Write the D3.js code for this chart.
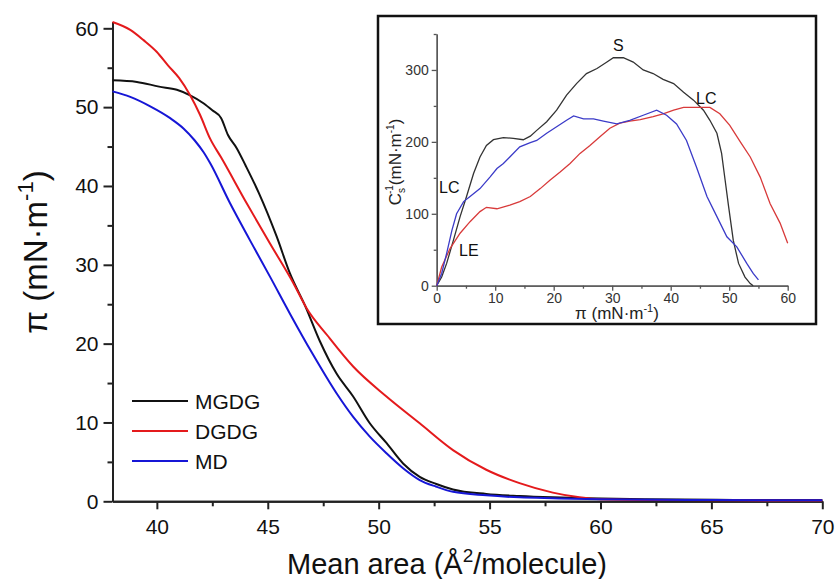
<!DOCTYPE html>
<html>
<head>
<meta charset="utf-8">
<script src="https://cdn.jsdelivr.net/npm/d3@7/dist/d3.min.js"></script>
<style>
body { margin: 0; background: #fff; }
svg { display: block; font-family: "Liberation Sans", Arial, sans-serif; }
.main-axis path, .main-axis line { stroke: #222; stroke-width: 2; }
.inset-axis path, .inset-axis line { stroke: #555; stroke-width: 1.3; }
</style>
</head>
<body>
<svg id="chart" width="839" height="579"></svg>
<script>
// main isotherms: surface pressure vs mean molecular area
var mgdgArea = [38, 39.1, 40.1, 40.9, 41.5, 42.1, 42.5, 42.9, 43.2, 43.6, 44.0, 44.6, 45.4, 46.0, 46.7, 47.35, 48.1, 48.85, 49.6, 50.35, 51.1, 51.85, 52.6, 53.35, 54.85, 56.35, 57.85, 59.35, 62, 66, 70];
var mgdgPi   = [53.4, 53.2, 52.6, 52.2, 51.5, 50.5, 49.6, 48.6, 46.5, 44.8, 42.6, 39.1, 33.6, 28.9, 24.7, 20.3, 16.2, 13.3, 9.9, 7.4, 4.8, 3.1, 2.2, 1.5, 0.93, 0.67, 0.5, 0.38, 0.25, 0.18, 0.15];

var dgdgArea = [38, 38.8, 39.4, 40.0, 40.5, 41.0, 41.5, 41.95, 42.4, 42.9, 44.05, 45.1, 46.15, 46.75, 47.7, 48.85, 50.35, 51.85, 53.35, 54.85, 56.35, 57.85, 59.05, 60, 63, 66, 70];
var dgdgPi   = [60.8, 59.8, 58.5, 57.0, 55.3, 53.7, 51.5, 49.0, 46.0, 43.6, 37.8, 32.7, 27.7, 24.5, 21.0, 17.1, 13.3, 9.9, 6.5, 4.0, 2.3, 1.1, 0.5, 0.25, 0.15, 0.12, 0.1];

var mdArea = [38, 38.8, 39.7, 40.6, 41.2, 41.7, 42.1, 42.4, 43.3, 44.2, 45.1, 46.0, 47.0, 48.1, 48.85, 49.6, 50.35, 51.1, 51.85, 52.6, 53.35, 54.85, 56.35, 57.85, 60, 65, 70];
var mdPi   = [52.0, 51.3, 50.1, 48.6, 47.3, 45.8, 44.3, 42.9, 37.8, 33.1, 28.5, 23.8, 18.8, 13.7, 10.7, 8.2, 6.1, 4.2, 2.7, 1.85, 1.2, 0.76, 0.5, 0.38, 0.25, 0.15, 0.12];

// inset: compression modulus vs surface pressure
var mgdgInsetPi = [0, 0.85, 1.7, 2.85, 4, 5.1, 6.3, 7.4, 8.5, 9.7, 11.4, 13.1, 14.8, 16, 17.1, 18.8, 20.5, 22.2, 23.9, 25.6, 27.4, 29.1, 30.2, 31.9, 33.6, 35.3, 37, 38.7, 40.5, 42.2, 43.9, 45.6, 46.7, 47.9, 48.7, 49.3, 49.9, 50.7, 51.6, 52.7, 53.6, 54.1];
var mgdgInsetC  = [0, 12, 31, 63, 96, 124, 156, 179, 195, 203, 206, 205, 203, 208, 216, 228, 244, 265, 281, 295, 302, 311, 317, 317, 311, 300, 295, 287, 281, 269, 258, 244, 230, 212, 184, 147, 110, 63, 31, 12, 3, 0];

var mdInsetPi = [0, 0.85, 1.7, 2.6, 3.4, 4.6, 5.7, 7.4, 9.1, 10.3, 11.4, 12.5, 14.2, 16, 17.1, 18.8, 20.5, 22.2, 23.4, 25.1, 26.8, 28.5, 30.8, 33, 35.3, 37.6, 39.3, 41, 42.7, 44.4, 46.2, 47.9, 49.6, 51.3, 53, 54.1, 55];
var mdInsetC  = [0, 17, 45, 77, 100, 117, 124, 135, 151, 163, 170, 179, 193, 199, 202, 212, 221, 230, 236, 232, 232, 229, 225, 230, 237, 244, 237, 225, 202, 165, 124, 96, 68, 54, 31, 17, 8];

var dgdgInsetPi = [0, 0.85, 2.3, 4, 5.7, 7.4, 8.5, 10.3, 12.5, 14.2, 16, 17.7, 19.4, 21.1, 22.8, 24.5, 26.2, 27.9, 29.6, 31.3, 33, 34.8, 37, 38.7, 40.5, 42.2, 43.9, 46.7, 48.4, 50.1, 51.9, 53.6, 55.3, 57, 58.7, 60];
var dgdgInsetC  = [0, 26, 52, 73, 89, 103, 109, 107, 112, 117, 124, 135, 147, 158, 170, 184, 195, 207, 219, 226, 229, 231, 235, 239, 244, 248, 248, 248, 239, 223, 200, 179, 151, 114, 87, 59];

var seriesNames = ["MGDG", "DGDG", "MD"];
var seriesColors = ["#111111", "#e41a1c", "#1616d6"];
var insetColors = ["#333333", "#d83a3a", "#3b3bc8"];

var xTicks = [40, 45, 50, 55, 60, 65, 70];
var xMinor = [42.5, 47.5, 52.5, 57.5, 62.5, 67.5];
var yTicks = [0, 10, 20, 30, 40, 50, 60];
var yMinor = [5, 15, 25, 35, 45, 55];
var insetXTicks = [0, 10, 20, 30, 40, 50, 60];
var insetXMinor = [5, 15, 25, 35, 45, 55];
var insetYTicks = [0, 100, 200, 300];
var insetYMinor = [50, 150, 250, 350];

var svg = d3.select("#chart");

function zip(a, b) {
  return a.map(function(v, i) { return [v, b[i]]; });
}

// ---- main chart ----
var x = d3.scaleLinear().domain([38, 70]).range([112.5, 822.3]);
var y = d3.scaleLinear().domain([0, 60.85]).range([501.3, 21.6]);

svg.append("g").attr("class", "main-axis")
    .attr("transform", "translate(0," + y(0) + ")")
    .call(d3.axisBottom(x).tickValues(xMinor).tickSize(5).tickSizeOuter(0).tickFormat(""));
var gx = svg.append("g").attr("class", "main-axis")
    .attr("transform", "translate(0," + y(0) + ")")
    .call(d3.axisBottom(x).tickValues(xTicks).tickSize(8).tickSizeOuter(0).tickPadding(10).tickFormat(d3.format("d")));
gx.selectAll("text").attr("font-size", 21).attr("fill", "#111")
    .attr("font-family", "Liberation Sans, Arial, sans-serif");

svg.append("g").attr("class", "main-axis")
    .attr("transform", "translate(" + x(38) + ",0)")
    .call(d3.axisLeft(y).tickValues(yMinor).tickSize(5).tickSizeOuter(0).tickFormat(""));
var gy = svg.append("g").attr("class", "main-axis")
    .attr("transform", "translate(" + x(38) + ",0)")
    .call(d3.axisLeft(y).tickValues(yTicks).tickSize(9).tickSizeOuter(0).tickPadding(5).tickFormat(d3.format("d")));
gy.selectAll("text").attr("font-size", 21).attr("fill", "#111")
    .attr("font-family", "Liberation Sans, Arial, sans-serif");

var line = d3.line()
    .x(function(d) { return x(d[0]); })
    .y(function(d) { return y(d[1]); })
    .curve(d3.curveMonotoneX);

var mainData = [zip(mgdgArea, mgdgPi), zip(dgdgArea, dgdgPi), zip(mdArea, mdPi)];
mainData.forEach(function(d, i) {
  svg.append("path").datum(d)
      .attr("d", line)
      .attr("fill", "none")
      .attr("stroke", seriesColors[i])
      .attr("stroke-width", 2);
});

// legend
var legend = svg.append("g").attr("transform", "translate(132,401)");
seriesNames.forEach(function(name, i) {
  legend.append("line")
      .attr("x1", 0).attr("x2", 56)
      .attr("y1", i * 30).attr("y2", i * 30)
      .attr("stroke", seriesColors[i]).attr("stroke-width", 2);
  legend.append("text")
      .attr("x", 63).attr("y", i * 30 + 7.5)
      .attr("font-size", 21).attr("fill", "#111")
      .text(name);
});

// axis titles
var xt = svg.append("text")
    .attr("x", 447).attr("y", 574)
    .attr("text-anchor", "middle")
    .attr("font-size", 29).attr("fill", "#111");
xt.append("tspan").text("Mean area (Å");
xt.append("tspan").attr("dy", -12).attr("font-size", 19).text("2");
xt.append("tspan").attr("dy", 12).text("/molecule)");

var yt = svg.append("text")
    .attr("transform", "translate(47,252) rotate(-90)")
    .attr("text-anchor", "middle")
    .attr("font-size", 33).attr("fill", "#111");
yt.append("tspan").text("π (mN·m");
yt.append("tspan").attr("dy", -14).attr("font-size", 22).text("-1");
yt.append("tspan").attr("dy", 14).text(")");

// ---- inset ----
svg.append("rect")
    .attr("x", 378).attr("y", 16)
    .attr("width", 438).attr("height", 308)
    .attr("fill", "#fff").attr("stroke", "#111").attr("stroke-width", 2.5);

var ix = d3.scaleLinear().domain([0, 60]).range([436.7, 787.7]);
var iy = d3.scaleLinear().domain([0, 350]).range([285.7, 34]);

svg.append("g").attr("class", "inset-axis")
    .attr("transform", "translate(0," + iy(0) + ")")
    .call(d3.axisBottom(ix).tickValues(insetXMinor).tickSize(3).tickSizeOuter(0).tickFormat(""));
var igx = svg.append("g").attr("class", "inset-axis")
    .attr("transform", "translate(0," + iy(0) + ")")
    .call(d3.axisBottom(ix).tickValues(insetXTicks).tickSize(5).tickSizeOuter(0).tickPadding(2).tickFormat(d3.format("d")));
igx.selectAll("text").attr("font-size", 14).attr("fill", "#333")
    .attr("font-family", "Liberation Sans, Arial, sans-serif");

svg.append("g").attr("class", "inset-axis")
    .attr("transform", "translate(" + ix(0) + ",0)")
    .call(d3.axisLeft(iy).tickValues(insetYMinor).tickSize(3).tickSizeOuter(0).tickFormat(""));
var igy = svg.append("g").attr("class", "inset-axis")
    .attr("transform", "translate(" + ix(0) + ",0)")
    .call(d3.axisLeft(iy).tickValues(insetYTicks).tickSize(5).tickSizeOuter(0).tickPadding(3).tickFormat(d3.format("d")));
igy.selectAll("text").attr("font-size", 14).attr("fill", "#333")
    .attr("font-family", "Liberation Sans, Arial, sans-serif");

var iline = d3.line()
    .x(function(d) { return ix(d[0]); })
    .y(function(d) { return iy(d[1]); });

var insetData = [zip(mgdgInsetPi, mgdgInsetC), zip(dgdgInsetPi, dgdgInsetC), zip(mdInsetPi, mdInsetC)];
insetData.forEach(function(d, i) {
  svg.append("path").datum(d)
      .attr("d", iline)
      .attr("fill", "none")
      .attr("stroke", insetColors[i])
      .attr("stroke-width", 1.3);
});

// inset labels
var ixt = svg.append("text")
    .attr("x", 617).attr("y", 319)
    .attr("text-anchor", "middle")
    .attr("font-size", 17).attr("fill", "#222");
ixt.append("tspan").text("π (mN·m");
ixt.append("tspan").attr("dy", -7).attr("font-size", 11).text("-1");
ixt.append("tspan").attr("dy", 7).text(")");

var iyt = svg.append("text")
    .attr("transform", "translate(401,162) rotate(-90)")
    .attr("text-anchor", "middle")
    .attr("font-size", 17).attr("fill", "#222");
iyt.append("tspan").text("C");
iyt.append("tspan").attr("dy", 4).attr("font-size", 10).text("s");
iyt.append("tspan").attr("dx", -6).attr("dy", -12).attr("font-size", 10).text("-1");
iyt.append("tspan").attr("dy", 8).text("(mN·m");
iyt.append("tspan").attr("dy", -7).attr("font-size", 10).text("-1");
iyt.append("tspan").attr("dy", 7).text(")");

var notes = [
  {t: "S", x: 613, y: 51},
  {t: "LC", x: 696, y: 104},
  {t: "LC", x: 439, y: 193},
  {t: "LE", x: 459, y: 256}
];
notes.forEach(function(n) {
  svg.append("text")
      .attr("x", n.x).attr("y", n.y)
      .attr("font-size", 16).attr("fill", "#111")
      .text(n.t);
});
</script>
</body>
</html>
